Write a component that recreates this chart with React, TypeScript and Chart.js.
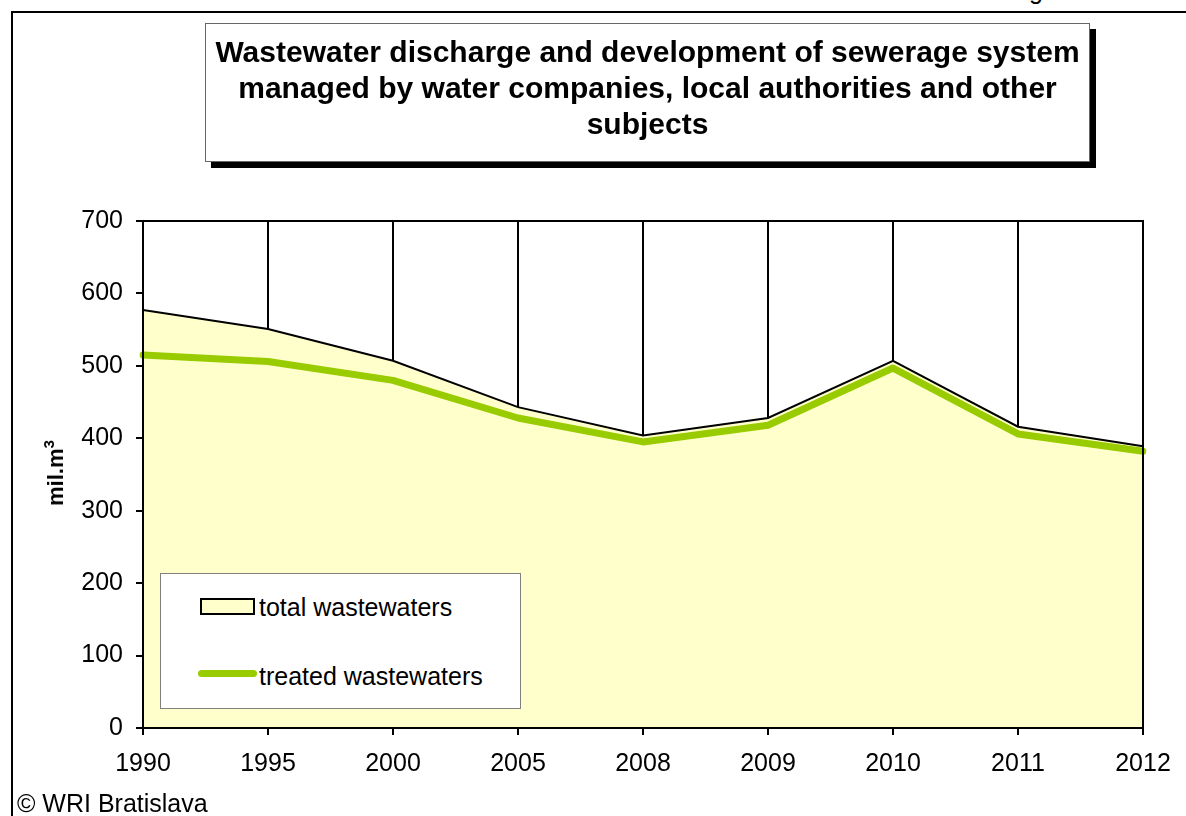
import React, { useEffect, useRef } from "react";
import { Chart, registerables } from "chart.js";

Chart.register(...registerables);

const years = ["1990", "1995", "2000", "2005", "2008", "2009", "2010", "2011", "2012"];
const totalWastewaters = [577, 551, 507, 443, 404, 428, 507, 416, 389];
const treatedWastewaters = [515, 506, 480, 428, 395, 418, 497, 406, 382];
const seriesLabels = ["total wastewaters", "treated wastewaters"];
const titleLines = [
  "Wastewater discharge and development of sewerage system",
  "managed by water companies, local authorities and other",
  "subjects",
];
const yAxisTitleBase = "mil.m";
const yAxisTitleSup = "3";
const yMin = 0;
const yMax = 700;
const yStep = 100;

const FONT = 'Arial, "Liberation Sans", sans-serif';
const FILL = "#FFFFCC";
const GREEN = "#99CC00";

const edgePlugin = {
  id: "edges",
  afterDatasetsDraw(chart: any) {
    const { ctx, chartArea } = chart;
    const { left, right, top, bottom } = chartArea;
    ctx.save();
    ctx.strokeStyle = "#000";
    ctx.lineWidth = 2;
    ctx.beginPath();
    ctx.moveTo(left, top);
    ctx.lineTo(right, top);
    ctx.lineTo(right, bottom);
    ctx.stroke();
    ctx.restore();
  },
};

export default function App() {
  const canvasRef = useRef<HTMLCanvasElement | null>(null);

  useEffect(() => {
    if (!canvasRef.current) return;
    const chart = new Chart(canvasRef.current, {
      type: "line",
      data: {
        labels: years,
        datasets: [
          {
            label: seriesLabels[1],
            data: treatedWastewaters,
            borderColor: GREEN,
            borderWidth: 7,
            borderCapStyle: "round",
            borderJoinStyle: "round",
            pointRadius: 0,
            fill: false,
            tension: 0,
            order: 0,
          },
          {
            label: seriesLabels[0],
            data: totalWastewaters,
            borderColor: "#000",
            borderWidth: 2,
            backgroundColor: FILL,
            pointRadius: 0,
            fill: "origin",
            tension: 0,
            order: 1,
          },
        ],
      },
      options: {
        animation: false,
        responsive: false,
        devicePixelRatio: 1,
        layout: { padding: { top: 221, left: 0, right: 43, bottom: 28 } },
        plugins: {
          legend: { display: false },
          tooltip: { enabled: false },
          title: { display: false },
        },
        scales: {
          x: {
            type: "category",
            offset: false,
            grid: {
              display: true,
              drawOnChartArea: true,
              drawTicks: true,
              color: "#000",
              tickColor: "#000",
              lineWidth: 2,
              tickLength: 7,
              offset: false,
            },
            border: { display: true, color: "#000", width: 2, z: 1 },
            ticks: {
              color: "#000",
              font: { family: FONT, size: 25 },
              padding: 14,
              autoSkip: false,
              maxRotation: 0,
              minRotation: 0,
            },
            afterFit(scale: any) {
              scale.height = 60;
              scale.paddingLeft = 0;
              scale.paddingRight = 0;
              scale.paddingTop = 0;
              scale.paddingBottom = 0;
            },
          },
          y: {
            min: yMin,
            max: yMax,
            grid: {
              display: true,
              drawOnChartArea: true,
              drawTicks: true,
              color: "rgba(0,0,0,0)",
              tickColor: "#000",
              lineWidth: 2,
              tickLength: 7,
            },
            border: { display: true, color: "#000", width: 2, z: 1 },
            ticks: {
              stepSize: yStep,
              color: "#000",
              font: { family: FONT, size: 25 },
              padding: 13,
            },
            title: { display: false },
            afterFit(scale: any) {
              scale.width = 143;
              scale.paddingLeft = 0;
              scale.paddingRight = 0;
              scale.paddingTop = 0;
              scale.paddingBottom = 0;
            },
          },
        },
      },
      plugins: [edgePlugin],
    } as any);
    return () => chart.destroy();
  }, []);

  const wrap: React.CSSProperties = {
    position: "absolute",
    left: 0,
    top: 0,
    width: 1186,
    height: 816,
    overflow: "hidden",
    background: "#fff",
    fontFamily: FONT,
    color: "#000",
  };

  return (
    <div style={wrap}>
      <div
        style={{
          position: "absolute",
          left: 11,
          top: 11,
          width: 1300,
          height: 1000,
          border: "2px solid #000",
        }}
      />
      <div
        style={{
          position: "absolute",
          left: 1029,
          top: -22,
          fontSize: 25,
          lineHeight: "25px",
        }}
      >
        g
      </div>
      <canvas
        ref={canvasRef}
        width={1186}
        height={816}
        style={{ position: "absolute", left: 0, top: 0, width: 1186, height: 816 }}
      />
      <div
        style={{
          position: "absolute",
          left: 57,
          top: 473,
          transform: "translate(-50%, -50%) rotate(-90deg)",
          fontSize: 22,
          fontWeight: "bold",
          lineHeight: "26px",
          whiteSpace: "nowrap",
        }}
      >
        {yAxisTitleBase}
        <span style={{ fontSize: 15, position: "relative", top: -9 }}>{yAxisTitleSup}</span>
      </div>
      <div
        style={{
          position: "absolute",
          left: 205,
          top: 23,
          width: 883,
          height: 127,
          border: "1px solid #666",
          background: "#fff",
          boxShadow: "6px 6px 0 #000",
          textAlign: "center",
          fontWeight: "bold",
          fontSize: 30,
          lineHeight: "36px",
          paddingTop: 10,
          boxSizing: "content-box",
          whiteSpace: "nowrap",
        }}
      >
        {titleLines.map((t, i) => (
          <div key={i}>{t}</div>
        ))}
      </div>
      <div
        style={{
          position: "absolute",
          left: 160,
          top: 573,
          width: 359,
          height: 134,
          border: "1px solid #808080",
          background: "#fff",
        }}
      >
        <div
          style={{
            position: "absolute",
            left: 39,
            top: 24,
            width: 51,
            height: 13,
            background: FILL,
            border: "2px solid #000",
          }}
        />
        <div
          style={{
            position: "absolute",
            left: 98,
            top: 18,
            fontSize: 25,
            lineHeight: "30px",
            whiteSpace: "nowrap",
          }}
        >
          {seriesLabels[0]}
        </div>
        <div
          style={{
            position: "absolute",
            left: 37,
            top: 96,
            width: 59,
            height: 7,
            borderRadius: 4,
            background: GREEN,
          }}
        />
        <div
          style={{
            position: "absolute",
            left: 98,
            top: 87,
            fontSize: 25,
            lineHeight: "30px",
            whiteSpace: "nowrap",
          }}
        >
          {seriesLabels[1]}
        </div>
      </div>
      <div
        style={{
          position: "absolute",
          left: 17,
          top: 788,
          fontSize: 25,
          lineHeight: "30px",
          whiteSpace: "nowrap",
        }}
      >
        © WRI Bratislava
      </div>
    </div>
  );
}
